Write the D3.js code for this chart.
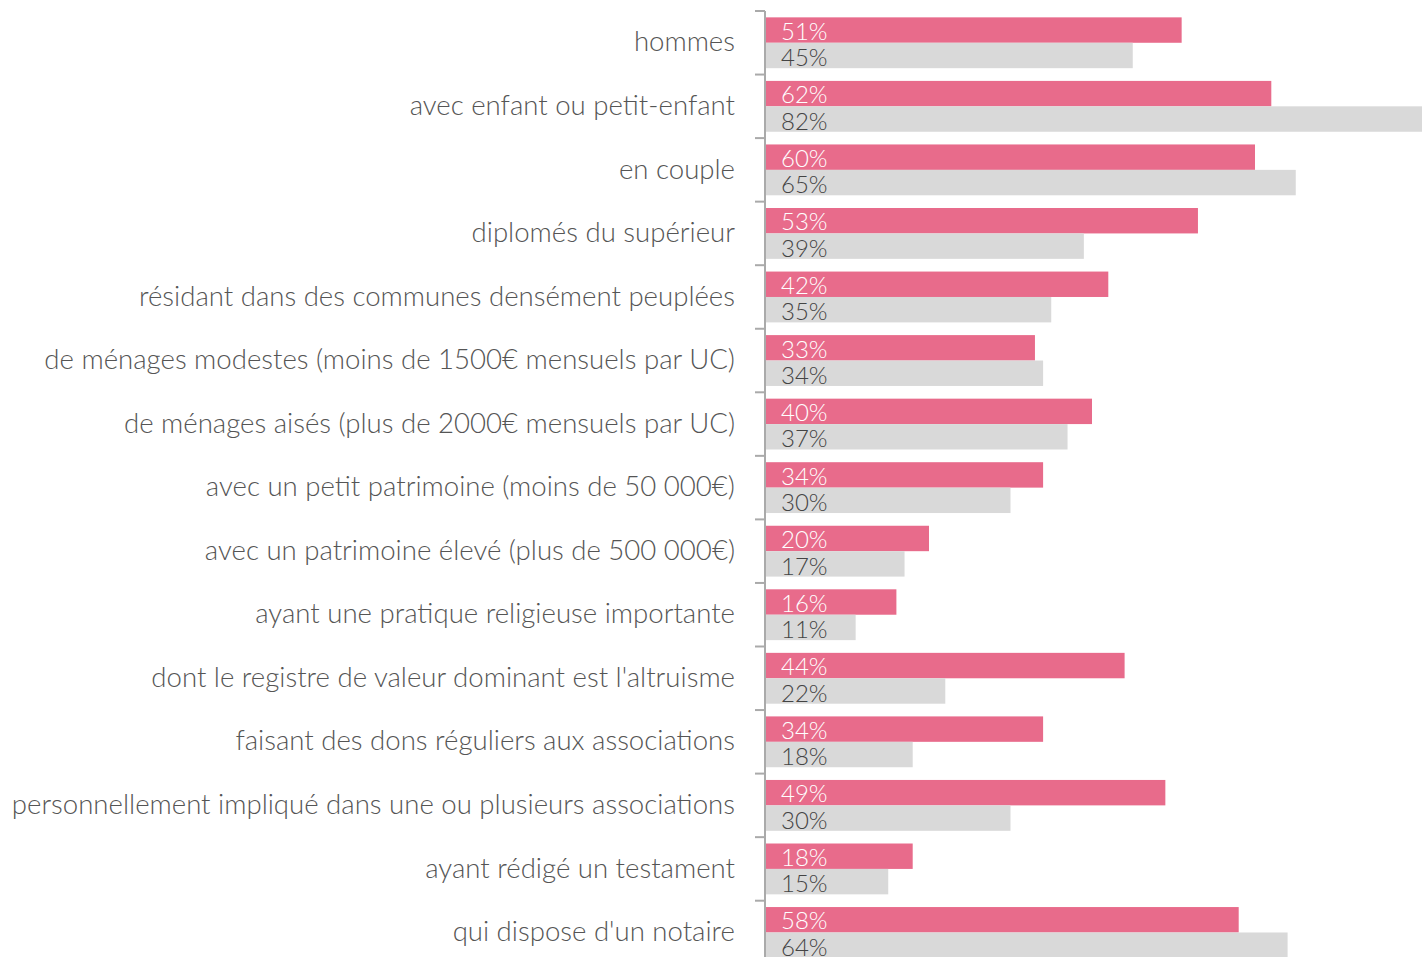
<!DOCTYPE html>
<html>
<head>
<meta charset="utf-8">
<script src="https://cdn.jsdelivr.net/npm/d3@7"></script>
<style>
  body { margin: 0; background: #fff; }
  svg { display: block; }
  text { font-family: "Lato", "Open Sans", sans-serif; font-weight: 300; }
</style>
</head>
<body>
<svg id="chart" width="1422" height="957"></svg>
<script>
var categories = [
  "hommes",
  "avec enfant ou petit-enfant",
  "en couple",
  "diplomés du supérieur",
  "résidant dans des communes densément peuplées",
  "de ménages modestes (moins de 1500€ mensuels par UC)",
  "de ménages aisés (plus de 2000€ mensuels par UC)",
  "avec un petit patrimoine (moins de 50 000€)",
  "avec un patrimoine élevé (plus de 500 000€)",
  "ayant une pratique religieuse importante",
  "dont le registre de valeur dominant est l'altruisme",
  "faisant des dons réguliers aux associations",
  "personnellement impliqué dans une ou plusieurs associations",
  "ayant rédigé un testament",
  "qui dispose d'un notaire"
];
var seriesPink = [51, 62, 60, 53, 42, 33, 40, 34, 20, 16, 44, 34, 49, 18, 58];
var seriesGray = [45, 82, 65, 39, 35, 34, 37, 30, 17, 11, 22, 18, 30, 15, 64];

var svg = d3.select("#chart");
var x0 = 766;

var y = d3.scaleBand()
    .domain(categories)
    .range([11, 11 + 15 * 63.55])
    .paddingInner(0.2)
    .paddingOuter(0.1);

var x = d3.scaleLinear().domain([0, 100]).range([x0, x0 + 815]);

var step = y.step();
var half = y.bandwidth() / 2;

var rows = svg.selectAll("g.row")
    .data(categories)
    .enter().append("g")
    .attr("class", "row");

// pink bars
rows.append("rect")
    .attr("x", x(0))
    .attr("y", function(d) { return y(d); })
    .attr("width", function(d, i) { return x(seriesPink[i]) - x(0); })
    .attr("height", half)
    .attr("fill", "#e86b8b");

// gray bars
rows.append("rect")
    .attr("x", x(0))
    .attr("y", function(d) { return y(d) + half; })
    .attr("width", function(d, i) { return x(seriesGray[i]) - x(0); })
    .attr("height", half)
    .attr("fill", "#d9d9d9");

rows.append("text")
    .attr("x", 781)
    .attr("y", function(d) { return y(d) + half - 3; })
    .attr("fill", "#fff")
    .style("font-size", "24px")
    .text(function(d, i) { return seriesPink[i] + "%"; });

rows.append("text")
    .attr("x", 781)
    .attr("y", function(d) { return y(d) + 2 * half - 2; })
    .attr("fill", "#444")
    .style("font-size", "24px")
    .text(function(d, i) { return seriesGray[i] + "%"; });

// category labels
rows.append("text")
    .attr("x", 735)
    .attr("y", function(d) { return y(d) + half - 1; })
    .attr("dy", "0.35em")
    .attr("text-anchor", "end")
    .attr("fill", "#555")
    .style("font-size", "27.6px")
    .text(function(d) { return d; });

// axis line and ticks between groups
svg.append("line")
    .attr("x1", 765).attr("x2", 765)
    .attr("y1", 11).attr("y2", 957)
    .attr("stroke", "#aaa").attr("stroke-width", 2);

svg.selectAll("line.tick")
    .data(categories)
    .enter().append("line")
    .attr("class", "tick")
    .attr("x1", 755).attr("x2", 765)
    .attr("y1", function(d) { return y(d) - step * 0.1; })
    .attr("y2", function(d) { return y(d) - step * 0.1; })
    .attr("stroke", "#aaa").attr("stroke-width", 2);
</script>
</body>
</html>
